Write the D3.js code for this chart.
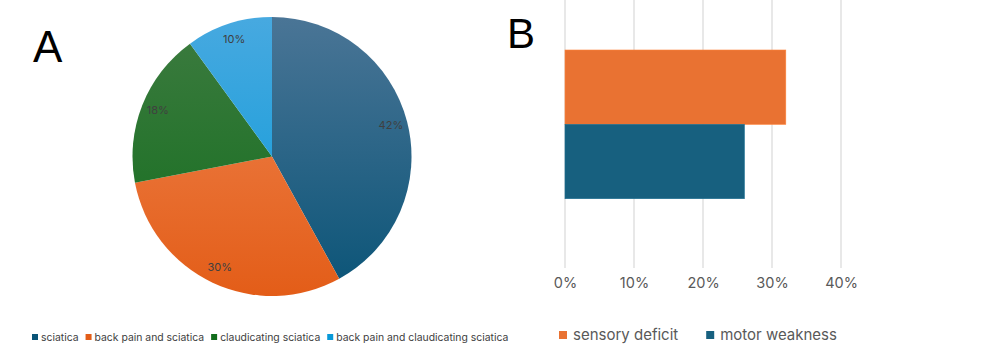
<!DOCTYPE html>
<html><head><meta charset="utf-8">
<script src="https://cdn.jsdelivr.net/npm/d3@7"></script>
<style>body{margin:0;background:#fff;}svg{display:block;font-family:Inter,"Open Sans",sans-serif;}</style>
</head><body>
<svg id="c" width="986" height="353"></svg>
<script>
const pieCategories = ["sciatica","back pain and sciatica","claudicating sciatica","back pain and claudicating sciatica"];
const pieValues = [42,30,18,10];
const pieColors = [["#4a7596","#0a5477"],["#ef8652","#e35d18"],["#3d7b40","#126d1c"],["#47a9e0","#0899d8"]];
const barCategories = ["sensory deficit","motor weakness"];
const barValues = [32,26];
const barColors = ["#e97232","#17607f"];
const barTicks = [0,10,20,30,40];

const svg = d3.select("#c");
const defs = svg.append("defs");

// Panel labels
svg.append("text").attr("x",33).attr("y",62).attr("font-family","Liberation Sans, Arial, sans-serif").attr("font-size",44).text("A");
svg.append("text").attr("x",507).attr("y",48).attr("font-family","Liberation Sans, Arial, sans-serif").attr("font-size",42).text("B");

// Pie
const cx=272, cy=156.5, r=139.5;
const pie = d3.pie().sort(null).value(d=>d)(pieValues);
const arc = d3.arc().innerRadius(0).outerRadius(r);
const g = svg.append("g").attr("transform",`translate(${cx},${cy})`);
pie.forEach((p,i)=>{
  const gid="pg"+i;
  const lg=defs.append("linearGradient").attr("id",gid).attr("gradientUnits","userSpaceOnUse")
    .attr("x1",0).attr("y1",-r).attr("x2",0).attr("y2",r);
  lg.append("stop").attr("offset","0%").attr("stop-color",pieColors[i][0]);
  lg.append("stop").attr("offset","100%").attr("stop-color",pieColors[i][1]);
  g.append("path").attr("d",arc(p)).attr("fill",`url(#${gid})`);
});
const labelArc = d3.arc().innerRadius(r*0.88).outerRadius(r*0.88);
pie.forEach((p,i)=>{
  const c=labelArc.centroid(p);
  g.append("text").attr("x",c[0]).attr("y",c[1]-1).attr("text-anchor","middle").attr("dominant-baseline","central")
   .attr("font-size",11).attr("fill","#404040").text(pieValues[i]+"%");
});

// Pie legend
let lx=32;
const lgL = svg.append("g");
pieCategories.forEach((c,i)=>{
  lgL.append("rect").attr("x",lx).attr("y",334).attr("width",6).attr("height",6).attr("fill",pieColors[i][1]);
  const t=lgL.append("text").attr("x",lx+9).attr("y",340.5).attr("font-size",10.4).attr("fill","#404040").text(c);
  lx += 9 + t.node().getComputedTextLength() + 7;
});

// Bar chart
const x = d3.scaleLinear().domain([0,40]).range([565,841]);
const y = d3.scaleBand().domain(barCategories).range([50,198.7]).padding(0);
const gridG = svg.append("g");
barTicks.forEach(t=>{
  gridG.append("line").attr("x1",x(t)).attr("x2",x(t)).attr("y1",0).attr("y2",268).attr("stroke","#e0e0e0").attr("stroke-width",1.5);
});
const axis = d3.axisBottom(x).tickValues(barTicks).tickFormat(d=>d+"%").tickSize(0).tickPadding(0);
const ax = svg.append("g").attr("transform","translate(0,278)").call(axis);
ax.select(".domain").remove();
ax.selectAll("text").attr("font-size",14.5).attr("fill","#595959").attr("font-family","Inter,'Open Sans',sans-serif");
barCategories.forEach((c,i)=>{
  svg.append("rect").attr("x",x(0)).attr("y",y(c)).attr("width",x(barValues[i])-x(0)).attr("height",y.bandwidth())
    .attr("fill",barColors[i]).attr("stroke",d3.color(barColors[i]).brighter(0.4)).attr("stroke-width",0.6);
});
// Bar legend
let bx=559;
barCategories.forEach((c,i)=>{
  svg.append("rect").attr("x",bx).attr("y",331).attr("width",8).attr("height",8).attr("fill",barColors[i]);
  const t=svg.append("text").attr("x",bx+14).attr("y",339.5).attr("font-size",15).attr("fill","#595959").text(c);
  bx += 14 + t.node().getComputedTextLength() + 28;
});
</script>
</body></html>
